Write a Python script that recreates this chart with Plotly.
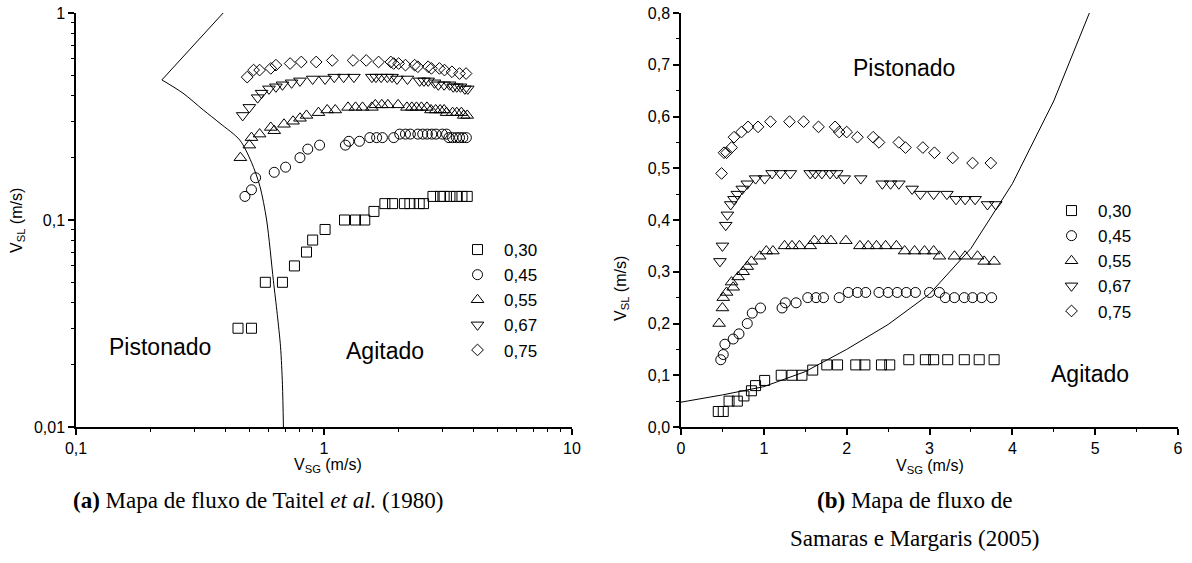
import plotly.graph_objects as go

# ---------------- data ----------------
series_names = ["0,30", "0,45", "0,55", "0,67", "0,75"]

vsg_030 = [0.45, 0.51, 0.58, 0.68, 0.76, 0.85, 0.90, 1.01, 1.21, 1.34, 1.46, 1.59, 1.76, 1.89, 2.11, 2.22, 2.42, 2.52,
           2.75, 2.95, 3.05, 3.22, 3.42, 3.60, 3.78]
vsl_030 = [0.03, 0.03, 0.05, 0.05, 0.06, 0.07, 0.08, 0.09, 0.10, 0.10, 0.10, 0.11, 0.12, 0.12, 0.12, 0.12, 0.12, 0.12,
           0.13, 0.13, 0.13, 0.13, 0.13, 0.13, 0.13]

vsg_045 = [0.48, 0.51, 0.53, 0.63, 0.70, 0.80, 0.86, 0.96, 1.22, 1.26, 1.39, 1.53, 1.63, 1.72, 1.91, 2.02, 2.13, 2.23,
           2.39, 2.50, 2.61, 2.72, 2.83, 3.00, 3.12, 3.19, 3.30, 3.42, 3.52, 3.63, 3.75]
vsl_045 = [0.13, 0.14, 0.16, 0.17, 0.18, 0.20, 0.22, 0.23, 0.23, 0.24, 0.24, 0.25, 0.25, 0.25, 0.25, 0.26, 0.26, 0.26,
           0.26, 0.26, 0.26, 0.26, 0.26, 0.26, 0.26, 0.25, 0.25, 0.25, 0.25, 0.25, 0.25]

vsg_055 = [0.46, 0.50, 0.51, 0.55, 0.61, 0.63, 0.69, 0.75, 0.80, 0.85, 0.95, 1.03, 1.11, 1.25, 1.34, 1.43, 1.56, 1.61,
           1.71, 1.81, 1.99, 2.16, 2.26, 2.36, 2.47, 2.60, 2.70, 2.82, 2.94, 3.05, 3.12, 3.30, 3.43, 3.58, 3.66, 3.78]
vsl_055 = [0.20, 0.23, 0.25, 0.26, 0.28, 0.27, 0.29, 0.30, 0.31, 0.32, 0.33, 0.34, 0.34, 0.35, 0.35, 0.35, 0.35, 0.36,
           0.36, 0.36, 0.36, 0.35, 0.35, 0.35, 0.35, 0.35, 0.34, 0.34, 0.34, 0.34, 0.33, 0.33, 0.33, 0.33, 0.32, 0.32]

vsg_067 = [0.47, 0.50, 0.54, 0.56, 0.60, 0.64, 0.68, 0.74, 0.80, 0.90, 1.01, 1.10, 1.20, 1.32, 1.56, 1.62, 1.70, 1.80,
           1.88, 1.97, 2.17, 2.43, 2.53, 2.63, 2.79, 2.89, 3.05, 3.21, 3.32, 3.43, 3.55, 3.70, 3.80]
vsl_067 = [0.32, 0.35, 0.39, 0.41, 0.43, 0.44, 0.45, 0.46, 0.47, 0.48, 0.48, 0.49, 0.49, 0.49, 0.49, 0.49, 0.49, 0.49,
           0.49, 0.48, 0.48, 0.47, 0.47, 0.47, 0.46, 0.45, 0.45, 0.45, 0.44, 0.44, 0.44, 0.43, 0.43]

vsg_075 = [0.49, 0.52, 0.55, 0.61, 0.64, 0.73, 0.81, 0.93, 1.08, 1.31, 1.48, 1.66, 1.86, 1.91, 2.00, 2.13, 2.32, 2.39,
           2.63, 2.71, 2.92, 3.06, 3.28, 3.52, 3.74]
vsl_075 = [0.49, 0.53, 0.53, 0.54, 0.56, 0.57, 0.58, 0.58, 0.59, 0.59, 0.59, 0.58, 0.58, 0.57, 0.57, 0.56, 0.56, 0.55,
           0.55, 0.54, 0.54, 0.53, 0.52, 0.51, 0.51]

# Taitel et al. (1980) transition curve (panel a): straight upper branch + curved lower branch
taitel_upper_vsg = [0.392, 0.222]
taitel_upper_vsl = [1.0, 0.475]
taitel_lower_vsg = [0.222, 0.27, 0.326, 0.381, 0.458, 0.51, 0.552, 0.587, 0.625, 0.648, 0.668, 0.68, 0.686]
taitel_lower_vsl = [0.475, 0.41, 0.34, 0.293, 0.243, 0.19, 0.145, 0.10, 0.051, 0.035, 0.0244, 0.016, 0.01]

# Samaras e Margaris (2005) transition curve (panel b)
samaras_vsg = [0.0, 0.5, 1.0, 1.5, 2.0, 2.5, 3.0, 3.5, 4.0, 4.5, 4.93]
samaras_vsl = [0.048, 0.062, 0.078, 0.107, 0.150, 0.198, 0.257, 0.345, 0.470, 0.630, 0.800]

# tick labels
log_x_vals = [0.1, 1, 10]
log_x_text = ["0,1", "1", "10"]
log_y_vals = [0.01, 0.1, 1]
log_y_text = ["0,01", "0,1", "1"]
lin_x_vals = [0, 1, 2, 3, 4, 5, 6]
lin_x_text = ["0", "1", "2", "3", "4", "5", "6"]
lin_y_vals = [0.0, 0.1, 0.2, 0.3, 0.4, 0.5, 0.6, 0.7, 0.8]
lin_y_text = ["0,0", "0,1", "0,2", "0,3", "0,4", "0,5", "0,6", "0,7", "0,8"]

# ---------------- figure ----------------
W, H = 1192, 563
FONT = "Liberation Sans, Arial, sans-serif"
SERIF = "Liberation Serif, Times New Roman, serif"

symbols = ["square-open", "circle-open", "triangle-up-open", "triangle-down-open", "diamond-open"]
sizes = [10, 10, 11, 11, 9]
xs = [vsg_030, vsg_045, vsg_055, vsg_067, vsg_075]
ys = [vsl_030, vsl_045, vsl_055, vsl_067, vsl_075]

fig = go.Figure()

for name, sym, sz, x, y in zip(series_names, symbols, sizes, xs, ys):
    fig.add_trace(go.Scatter(x=x, y=y, mode="markers", name=name, xaxis="x", yaxis="y", legend="legend",
                             marker=dict(symbol=sym, size=sz, color="black", line=dict(width=1, color="black"))))
fig.add_trace(go.Scatter(x=taitel_upper_vsg, y=taitel_upper_vsl, mode="lines", line=dict(color="black", width=1),
                         xaxis="x", yaxis="y", showlegend=False))
fig.add_trace(go.Scatter(x=taitel_lower_vsg, y=taitel_lower_vsl, mode="lines",
                         line=dict(color="black", width=1, shape="spline", smoothing=0.8),
                         xaxis="x", yaxis="y", showlegend=False))

for name, sym, sz, x, y in zip(series_names, symbols, sizes, xs, ys):
    fig.add_trace(go.Scatter(x=x, y=y, mode="markers", name=name, xaxis="x2", yaxis="y2", legend="legend2",
                             marker=dict(symbol=sym, size=sz, color="black", line=dict(width=1, color="black"))))
fig.add_trace(go.Scatter(x=samaras_vsg, y=samaras_vsl, mode="lines", line=dict(color="black", width=1),
                         xaxis="x2", yaxis="y2", showlegend=False))


def px_x(p):
    return p / W


def px_y(p):
    return 1 - p / H


L_dom = [px_x(76), px_x(572)]
R_dom = [px_x(681), px_x(1178)]
Y_dom = [px_y(427), px_y(13)]

minor_log_x = [m * 10 ** e for e in (-1, 0) for m in range(2, 10)]
minor_log_y = [m * 10 ** e for e in (-2, -1) for m in range(2, 10)]
minor_lin_x = [0.5, 1.5, 2.5, 3.5, 4.5, 5.5]
minor_lin_y = [0.05, 0.15, 0.25, 0.35, 0.45, 0.55, 0.65, 0.75]

tickfont = dict(family=FONT, size=16, color="black")
common = dict(showline=True, linecolor="black", linewidth=1.5, showgrid=False, zeroline=False, automargin=False,
              tickcolor="black", tickwidth=1.5, ticklen=6, tickfont=tickfont, autorange=False)


def minor(vals, direction):
    return dict(tickmode="array", tickvals=vals, ticks=direction, ticklen=3, tickwidth=1, tickcolor="black",
                showgrid=False)


legend_common = dict(xanchor="left", yanchor="top", bgcolor="rgba(0,0,0,0)", itemwidth=43,
                     font=dict(family=FONT, size=17, color="black"), tracegroupgap=0, itemclick=False)

fig.update_layout(
    width=W, height=H, margin=dict(l=0, r=0, t=0, b=0, autoexpand=False),
    paper_bgcolor="white", plot_bgcolor="white",
    xaxis=dict(domain=L_dom, anchor="y", type="log", range=[-1, 1], ticks="outside", tickmode="array",
               tickvals=log_x_vals, ticktext=log_x_text, minor=minor(minor_log_x, "outside"), **common),
    yaxis=dict(domain=Y_dom, anchor="x", type="log", range=[-2, 0], ticks="outside", tickmode="array",
               tickvals=log_y_vals, ticktext=log_y_text, minor=minor(minor_log_y, "outside"), **common),
    xaxis3=dict(overlaying="x", anchor="y", side="top", type="log", range=[-1, 1], ticks="inside", tickmode="array",
                tickvals=log_x_vals, showticklabels=False, minor=minor(minor_log_x, "inside"), **common),
    yaxis3=dict(overlaying="y", anchor="x", side="right", type="log", range=[-2, 0], ticks="inside",
                tickmode="array", tickvals=log_y_vals, showticklabels=False, minor=minor(minor_log_y, "inside"),
                **common),
    xaxis2=dict(domain=R_dom, anchor="y2", range=[0, 6], ticks="outside", tickmode="array",
                tickvals=lin_x_vals, ticktext=lin_x_text, minor=minor(minor_lin_x, "outside"), **common),
    yaxis2=dict(domain=Y_dom, anchor="x2", range=[0, 0.8], ticks="outside", tickmode="array",
                tickvals=lin_y_vals, ticktext=lin_y_text, minor=minor(minor_lin_y, "outside"), **common),
    xaxis4=dict(overlaying="x2", anchor="y2", side="top", range=[0, 6], ticks="inside", tickmode="array",
                tickvals=lin_x_vals, showticklabels=False, minor=minor(minor_lin_x, "inside"), **common),
    yaxis4=dict(overlaying="y2", anchor="x2", side="right", range=[0, 0.8], ticks="inside", tickmode="array",
                tickvals=lin_y_vals, showticklabels=False, minor=minor(minor_lin_y, "inside"), **common),
    legend=dict(x=px_x(451), y=px_y(232), **legend_common),
    legend2=dict(x=px_x(1045), y=px_y(193), **legend_common),
    showlegend=True,
)

ann = []


def add_text(text, x, y, size, family=FONT, angle=0):
    ann.append(dict(text=text, x=px_x(x), y=px_y(y), xref="paper", yref="paper", xanchor="center",
                    yanchor="middle", showarrow=False, textangle=angle,
                    font=dict(family=family, size=size, color="black")))


add_text("Pistonado", 160, 347, 23)
add_text("Agitado", 385, 351, 23)
add_text("Pistonado", 904, 68, 23)
add_text("Agitado", 1090, 374, 23)

add_text("V<sub>SL</sub> (m/s)", 18, 221, 16, angle=-90)
add_text("V<sub>SL</sub> (m/s)", 621, 289, 16, angle=-90)
add_text("V<sub>SG</sub> (m/s)", 328, 465, 16)
add_text("V<sub>SG</sub> (m/s)", 930, 466, 16)

add_text("<b>(a)</b> Mapa de fluxo de Taitel <i>et al.</i> (1980)", 258, 500, 23, family=SERIF)
add_text("<b>(b)</b> Mapa de fluxo de", 914, 500, 23, family=SERIF)
add_text("Samaras e Margaris (2005)", 914, 538, 23, family=SERIF)

fig.update_layout(annotations=ann)

fig.write_html("out.html")
